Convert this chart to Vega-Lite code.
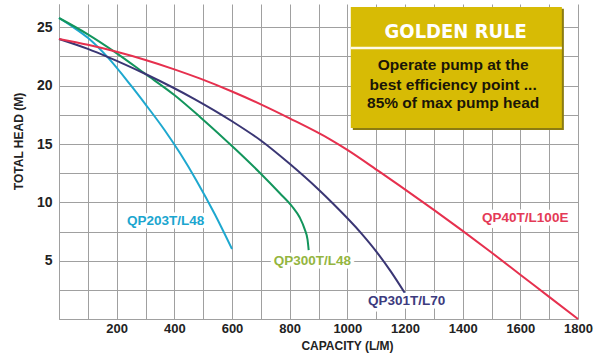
{
  "$schema": "https://vega.github.io/schema/vega-lite/v6.json",
  "width": 519,
  "height": 315,
  "autosize": "none",
  "padding": {"left": 59, "top": 4, "right": 33, "bottom": 35},
  "background": "white",
  "config": {
    "view": {"stroke": null},
    "axis": {
      "grid": true,
      "gridColor": "#a0a0a0",
      "gridWidth": 1,
      "domainColor": "#a0a0a0",
      "ticks": false,
      "labelFont": "Liberation Sans",
      "labelFontWeight": "bold",
      "labelColor": "#222222",
      "titleFont": "Liberation Sans",
      "titleFontWeight": "bold",
      "titleColor": "#222222",
      "titleFontSize": 12
    }
  },
  "datasets": {
    "curves": [
      {"series": "QP203T/L48", "x": 0, "y": 25.8},
      {"series": "QP203T/L48", "x": 50, "y": 25.0},
      {"series": "QP203T/L48", "x": 100, "y": 24.1},
      {"series": "QP203T/L48", "x": 170, "y": 22.4},
      {"series": "QP203T/L48", "x": 250, "y": 20.0},
      {"series": "QP203T/L48", "x": 300, "y": 18.4},
      {"series": "QP203T/L48", "x": 366, "y": 16.2},
      {"series": "QP203T/L48", "x": 420, "y": 14.2},
      {"series": "QP203T/L48", "x": 476, "y": 11.9},
      {"series": "QP203T/L48", "x": 540, "y": 9.0},
      {"series": "QP203T/L48", "x": 600, "y": 6.0},
      {"series": "QP300T/L48", "x": 0, "y": 25.8},
      {"series": "QP300T/L48", "x": 100, "y": 24.4},
      {"series": "QP300T/L48", "x": 193, "y": 22.9},
      {"series": "QP300T/L48", "x": 300, "y": 21.0},
      {"series": "QP300T/L48", "x": 400, "y": 19.2},
      {"series": "QP300T/L48", "x": 490, "y": 17.3},
      {"series": "QP300T/L48", "x": 614, "y": 14.5},
      {"series": "QP300T/L48", "x": 700, "y": 12.45},
      {"series": "QP300T/L48", "x": 765, "y": 10.8},
      {"series": "QP300T/L48", "x": 810, "y": 9.6},
      {"series": "QP300T/L48", "x": 835, "y": 8.7},
      {"series": "QP300T/L48", "x": 852, "y": 7.7},
      {"series": "QP300T/L48", "x": 862, "y": 6.8},
      {"series": "QP300T/L48", "x": 866, "y": 5.9},
      {"series": "QP301T/L70", "x": 0, "y": 24.0},
      {"series": "QP301T/L70", "x": 100, "y": 23.15},
      {"series": "QP301T/L70", "x": 170, "y": 22.45},
      {"series": "QP301T/L70", "x": 300, "y": 21.0},
      {"series": "QP301T/L70", "x": 470, "y": 18.85},
      {"series": "QP301T/L70", "x": 600, "y": 16.95},
      {"series": "QP301T/L70", "x": 700, "y": 15.3},
      {"series": "QP301T/L70", "x": 800, "y": 13.3},
      {"series": "QP301T/L70", "x": 900, "y": 11.1},
      {"series": "QP301T/L70", "x": 950, "y": 9.9},
      {"series": "QP301T/L70", "x": 1050, "y": 7.3},
      {"series": "QP301T/L70", "x": 1100, "y": 5.8},
      {"series": "QP301T/L70", "x": 1150, "y": 4.1},
      {"series": "QP301T/L70", "x": 1200, "y": 2.2},
      {"series": "QP40T/L100E", "x": 0, "y": 24.0},
      {"series": "QP40T/L100E", "x": 100, "y": 23.5},
      {"series": "QP40T/L100E", "x": 200, "y": 22.9},
      {"series": "QP40T/L100E", "x": 300, "y": 22.2},
      {"series": "QP40T/L100E", "x": 400, "y": 21.4},
      {"series": "QP40T/L100E", "x": 490, "y": 20.6},
      {"series": "QP40T/L100E", "x": 600, "y": 19.5},
      {"series": "QP40T/L100E", "x": 700, "y": 18.4},
      {"series": "QP40T/L100E", "x": 800, "y": 17.2},
      {"series": "QP40T/L100E", "x": 940, "y": 15.4},
      {"series": "QP40T/L100E", "x": 1000, "y": 14.5},
      {"series": "QP40T/L100E", "x": 1110, "y": 12.65},
      {"series": "QP40T/L100E", "x": 1180, "y": 11.45},
      {"series": "QP40T/L100E", "x": 1300, "y": 9.35},
      {"series": "QP40T/L100E", "x": 1400, "y": 7.55},
      {"series": "QP40T/L100E", "x": 1500, "y": 5.7},
      {"series": "QP40T/L100E", "x": 1600, "y": 3.8},
      {"series": "QP40T/L100E", "x": 1700, "y": 1.9},
      {"series": "QP40T/L100E", "x": 1800, "y": 0.0}
    ],
    "labels": [
      {"series": "QP203T/L48", "x": 370, "y": 8.4},
      {"series": "QP300T/L48", "x": 879, "y": 5.0},
      {"series": "QP301T/L70", "x": 1206, "y": 1.55},
      {"series": "QP40T/L100E", "x": 1617, "y": 8.65}
    ],
    "box": [
      {"part": "shadow", "x": 1019, "x2": 1751, "y": 16.2, "y2": 26.6},
      {"part": "panel", "x": 1012, "x2": 1744, "y": 16.37, "y2": 26.74}
    ],
    "separator": [
      {"x": 1012, "x2": 1744, "y": 23.22}
    ],
    "boxTitle": [
      {"x": 1376, "y": 24.64, "text": "GOLDEN RULE"}
    ],
    "boxBody": [
      {"x": 1367, "y": 21.79, "text": "Operate pump at the"},
      {"x": 1367, "y": 20.08, "text": "best efficiency point ..."},
      {"x": 1367, "y": 18.51, "text": "85% of max pump head"}
    ]
  },
  "resolve": {"scale": {"color": "independent"}},
  "encoding": {
    "x": {
      "field": "x", "type": "quantitative",
      "scale": {"domain": [0, 1800], "nice": false, "zero": false},
      "axis": {
        "values": [0, 100, 200, 300, 400, 500, 600, 700, 800, 900, 1000, 1100, 1200, 1300, 1400, 1500, 1600, 1700, 1800],
        "labelExpr": "datum.value % 200 == 0 && datum.value > 0 ? datum.label : ''",
        "format": "d",
        "labelFontSize": 13,
        "labelPadding": 3,
        "labelFlush": false,
        "labelOverlap": false,
        "title": "CAPACITY (L/M)",
        "titleX": 288,
        "titleY": 26,
        "titleBaseline": "middle"
      }
    },
    "y": {
      "field": "y", "type": "quantitative",
      "scale": {"domain": [0, 27], "nice": false, "zero": false},
      "axis": {
        "values": [0, 2.5, 5, 7.5, 10, 12.5, 15, 17.5, 20, 22.5, 25],
        "labelExpr": "datum.value % 5 == 0 && datum.value > 0 ? datum.label : ''",
        "labelFontSize": 14,
        "labelPadding": 7,
        "labelOverlap": false,
        "title": "TOTAL HEAD (M)",
        "titleX": -41,
        "titleY": 137,
        "titleBaseline": "middle",
        "titleAlign": "center"
      }
    }
  },
  "layer": [
    {
      "data": {"name": "curves"},
      "mark": {"type": "line", "interpolate": "monotone", "strokeWidth": 2},
      "encoding": {
        "color": {
          "field": "series", "type": "nominal",
          "scale": {
            "domain": ["QP203T/L48", "QP300T/L48", "QP301T/L70", "QP40T/L100E"],
            "range": ["#1ea8cf", "#13955c", "#3a3674", "#e6304e"]
          },
          "legend": null
        }
      }
    },
    {
      "data": {"name": "labels"},
      "mark": {"type": "text", "font": "Liberation Sans", "fontWeight": "bold", "fontSize": 13.5, "align": "center", "baseline": "middle", "fill": "white", "stroke": "white", "strokeWidth": 7, "strokeJoin": "round"},
      "encoding": {
        "text": {"field": "series"}
      }
    },
    {
      "data": {"name": "labels"},
      "mark": {"type": "text", "font": "Liberation Sans", "fontWeight": "bold", "fontSize": 13.5, "align": "center", "baseline": "middle"},
      "encoding": {
        "text": {"field": "series"},
        "color": {
          "field": "series", "type": "nominal",
          "scale": {
            "domain": ["QP203T/L48", "QP300T/L48", "QP301T/L70", "QP40T/L100E"],
            "range": ["#1ba6cf", "#94b540", "#3c3b7e", "#e43a57"]
          },
          "legend": null
        }
      }
    },
    {
      "data": {"name": "box"},
      "mark": {"type": "rect"},
      "encoding": {
        "x2": {"field": "x2"},
        "y2": {"field": "y2"},
        "color": {
          "field": "part", "type": "nominal",
          "scale": {"domain": ["shadow", "panel"], "range": ["#8c7c12", "#d7bb05"]},
          "legend": null
        }
      }
    },
    {
      "data": {"name": "separator"},
      "mark": {"type": "rule", "color": "#fffbe8", "strokeWidth": 2.5},
      "encoding": {
        "x2": {"field": "x2"}
      }
    },
    {
      "data": {"name": "boxTitle"},
      "mark": {"type": "text", "font": "DejaVu Sans Condensed", "fontWeight": "bold", "fontSize": 20, "color": "white", "align": "center", "baseline": "middle"},
      "encoding": {
        "text": {"field": "text"}
      }
    },
    {
      "data": {"name": "boxBody"},
      "mark": {"type": "text", "font": "Liberation Sans", "fontWeight": "bold", "fontSize": 15.5, "color": "#1a1608", "align": "center", "baseline": "middle"},
      "encoding": {
        "text": {"field": "text"}
      }
    }
  ]
}
